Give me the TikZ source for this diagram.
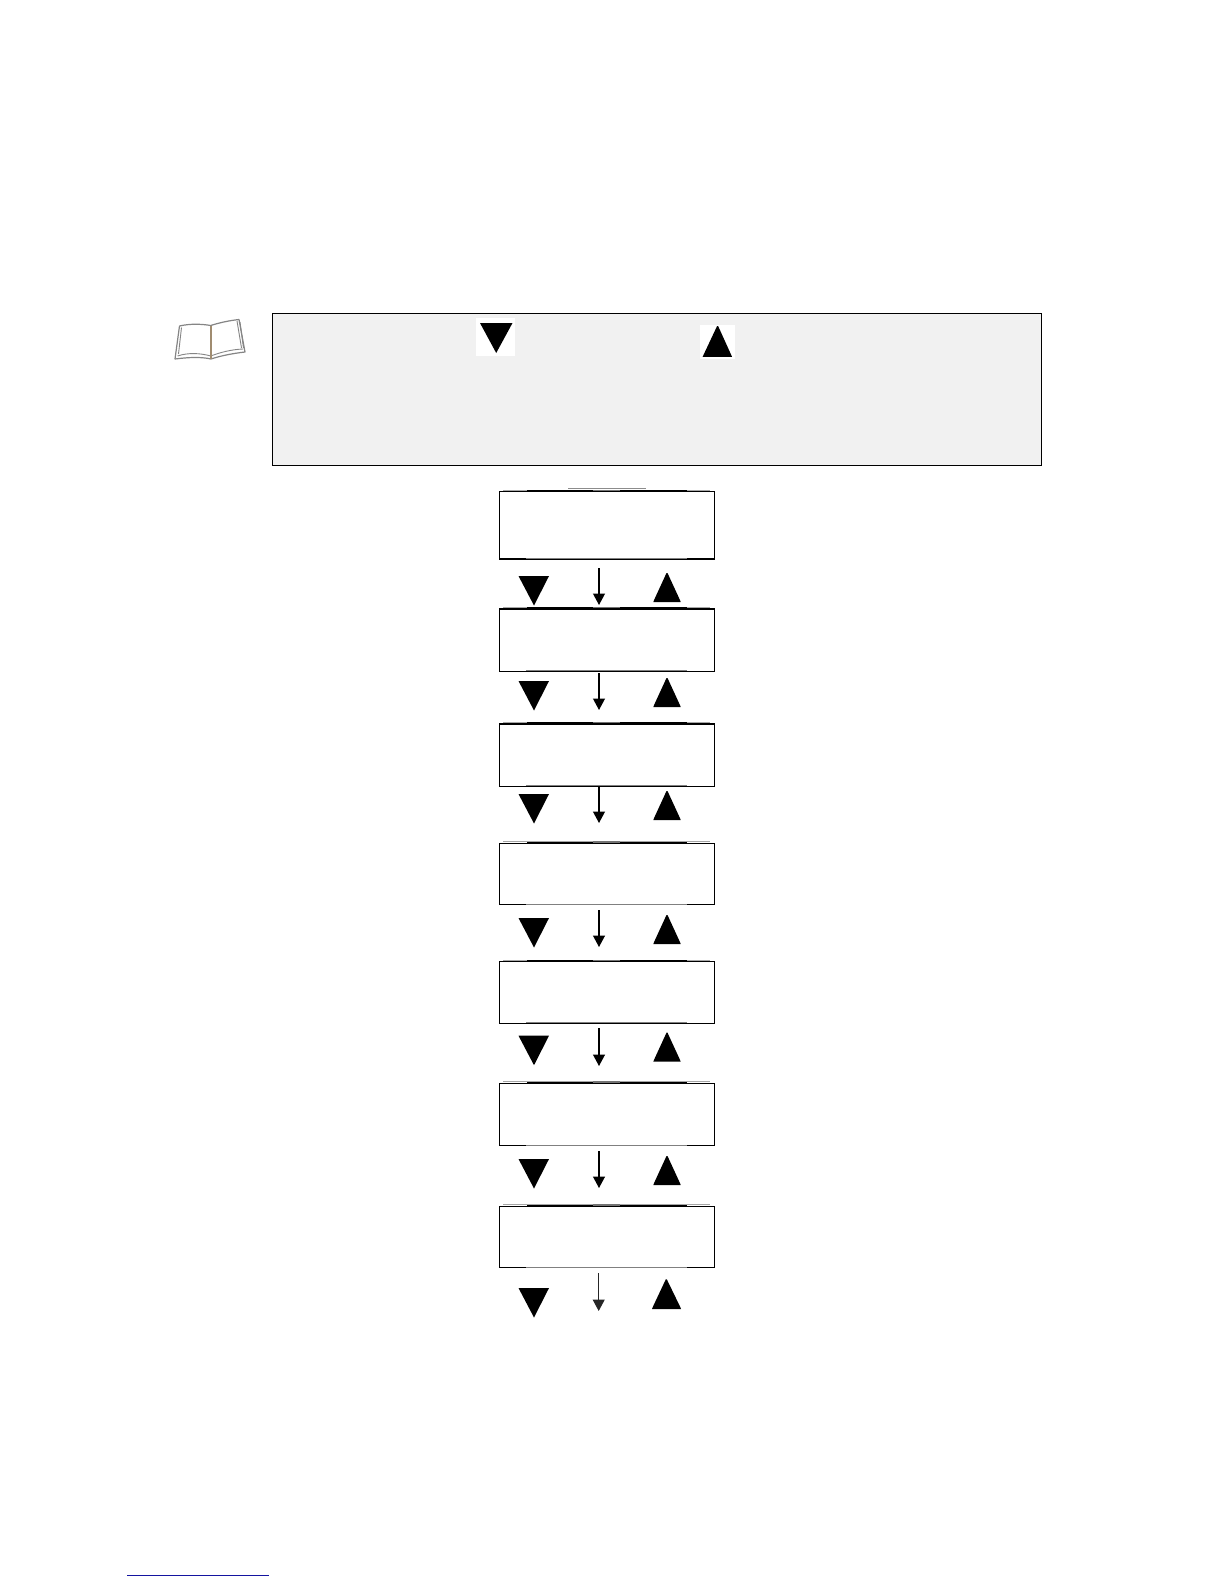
\documentclass[tikz,border=0pt]{standalone}
\usetikzlibrary{arrows.meta}
\definecolor{notefill}{HTML}{F1F1F1}
\definecolor{bookline}{HTML}{858585}
\definecolor{bookspine}{HTML}{A08C70}
\definecolor{linkblue}{HTML}{1414A0}
\tikzset{
  notebox/.style={draw=black,line width=1.1pt,fill=notefill,inner sep=0pt,anchor=north west,minimum width=769.5pt,minimum height=151.8pt},
  swatch/.style={fill=white,draw=none},
  tri/.style={fill=black,draw=none},
  lcd/.style={draw=black,line width=1.4pt,fill=white,inner sep=0pt,anchor=north west,minimum width=215pt},
  flow/.style={draw=black,line width=1.2pt,-{Triangle[width=12pt,length=11.5pt]}},
  smudge/.style={draw=black!45,line width=1pt},
  book/.style={draw=bookline,line width=1.2pt,line join=round}
}
\begin{document}
\begin{tikzpicture}[x=1pt,y=-1pt]
\useasboundingbox (0,0) rectangle (1224,1584);
% note box
\node[notebox] (note) at (271.5,313.2) {};
\fill[swatch] (476,318) rectangle (515,356);
\fill[tri] (480,323) -- (512.5,323) -- (496.2,353) -- cycle;
\fill[swatch] (700,325) rectangle (735,359);
\fill[tri] (717.1,326) -- (718.1,326) -- (731,354.5) -- (732,356.8) -- (702.7,356.8) -- (703.7,354.5) -- cycle;
% book
\draw[book,fill=white] (175,359) -- (179.5,326) .. controls (190,323.5) and (202,324) .. (210.7,325.5) .. controls (220,322.5) and (230,320.5) .. (239,319.5) -- (245,352) .. controls (232,353.5) and (220,356) .. (211,359) .. controls (200,356.5) and (187,357.5) .. (175,359) -- cycle;
\draw[book,line width=.9pt] (177.5,356) .. controls (188,352.5) and (200,353) .. (210.7,356) .. controls (220,352.5) and (231,349.5) .. (243,349);
\draw[book,line width=.9pt] (181.5,327.5) -- (178.5,354);
\draw[book,line width=.9pt] (237,321) -- (241.5,348);
\draw[book,line width=.9pt] (240,322) -- (243.5,348);
\draw[draw=bookspine,line width=1.8pt] (210.7,325.5) -- (210.7,358.5);
% display boxes
\foreach \nm/\ty/\hh in {a/491/67.3,b/608.3/62.4,c/723.3/62.4,d/842.7/61.3,e/961/61.7,f/1082.7/62.3,g/1205.7/61.3}{
  \node[lcd,minimum height=\hh pt] (\nm) at (499,\ty) {};
  \draw[black!35,line width=1pt] (\nm.north west) ++(4,-.9) -- ++(207,0);
  \draw[black,line width=1.3pt] (\nm.north west) ++(28,-.5) -- ++(160,0);
  \draw[black!55,line width=1.3pt] (\nm.north west) ++(94,-.7) -- ++(27,0);
  \draw[black!50,line width=1pt] (\nm.south west) ++(27,-1.2) -- ++(161,0);
}
\draw[smudge,line width=1.3pt] (568,488.8) -- (646,488.8);
% key groups
\foreach \nm/\T/\hs/\he in {p/576/568/605,q/681/673/710,r/794/786/823,s/918/910/947,t/1035.7/1028/1066,u/1159/1151/1188}{
  \fill[tri] (518.5,\T) -- (549,\T) -- (534,\T+29.5) -- cycle;
  \fill[tri] (666.5,\T-3) -- (667.5,\T-3) -- (679.7,\T+23.5) -- (680.7,\T+26) -- (653.3,\T+26) -- (654.3,\T+23.5) -- cycle;
  \coordinate (\nm1) at (599,\hs);
  \coordinate (\nm2) at (599,\he);
  \draw[flow] (\nm1) -- (\nm2);
}
\fill[tri] (518.5,1288) -- (549,1288) -- (534,1317.5) -- cycle;
\fill[tri] (665.8,1279.3) -- (666.8,1279.3) -- (680,1306.5) -- (681,1309) -- (652,1309) -- (653,1306.5) -- cycle;
\coordinate (v1) at (598.7,1273);
\coordinate (v2) at (598.7,1311);
\draw[flow,draw=black!85,fill=black] (v1) -- (v2);
% footer link rule
\coordinate (l1) at (127,1575);
\coordinate (l2) at (269,1575);
\draw[linkblue,line width=1pt] (l1) -- (l2);
\end{tikzpicture}
\end{document}
